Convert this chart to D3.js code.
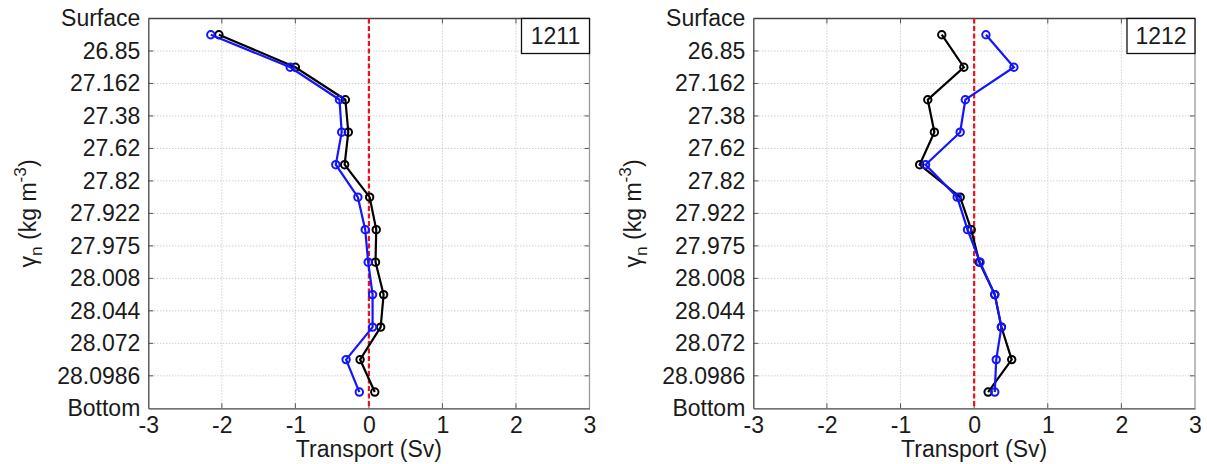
<!DOCTYPE html>
<html>
<head>
<meta charset="utf-8">
<script src="https://cdn.jsdelivr.net/npm/d3@7"></script>
<style>
  html, body { margin: 0; padding: 0; background: #fff; }
  svg { display: block; font-family: "Liberation Sans", Arial, sans-serif; }
</style>
</head>
<body>
<svg id="chart" width="1207" height="464"></svg>
<script>
// Neutral-density layer boundaries (top to bottom)
const densityLabels = ["Surface", "26.85", "27.162", "27.38", "27.62", "27.82", "27.922",
  "27.975", "28.008", "28.044", "28.072", "28.0986", "Bottom"];
const xTicks = [-3, -2, -1, 0, 1, 2, 3];

// Layer transports (Sv), one value per density layer
const transport1211Black = [-2.04, -1.00, -0.32, -0.28, -0.33, 0.01, 0.10, 0.09, 0.20, 0.16, -0.12, 0.08];
const transport1211Blue  = [-2.15, -1.07, -0.40, -0.37, -0.45, -0.15, -0.05, -0.01, 0.05, 0.05, -0.31, -0.13];
const transport1212Black = [-0.44, -0.14, -0.63, -0.54, -0.74, -0.19, -0.04, 0.07, 0.28, 0.37, 0.51, 0.19];
const transport1212Blue  = [0.16, 0.54, -0.12, -0.19, -0.66, -0.23, -0.09, 0.08, 0.28, 0.37, 0.30, 0.28];

const panels = [
  { name: "1211", left: 148.3, right: 589.5, black: transport1211Black, blue: transport1211Blue },
  { name: "1212", left: 753.3, right: 1195, black: transport1212Black, blue: transport1212Blue }
];

const plotTop = 18.5, plotBottom = 408.3;
const svg = d3.select("#chart");
const fontSize = 23;
const textColor = "#1a1a1a";

panels.forEach(p => {
  const x = d3.scaleLinear().domain([-3, 3]).range([p.left, p.right]);
  const y = d3.scaleLinear().domain([0, densityLabels.length - 1]).range([plotTop, plotBottom]);
  const g = svg.append("g");

  // grid
  g.append("g").selectAll("line").data(xTicks.slice(1, -1)).join("line")
    .attr("x1", d => x(d)).attr("x2", d => x(d)).attr("y1", plotTop).attr("y2", plotBottom)
    .attr("stroke", "#b8b8b8").attr("stroke-width", 1).attr("stroke-dasharray", "1,2");
  g.append("g").selectAll("line").data(d3.range(1, densityLabels.length - 1)).join("line")
    .attr("x1", p.left).attr("x2", p.right).attr("y1", d => y(d)).attr("y2", d => y(d))
    .attr("stroke", "#b8b8b8").attr("stroke-width", 1).attr("stroke-dasharray", "1,2");

  // inner ticks on all four sides
  const tl = 5;
  const ticks = g.append("g").attr("stroke", "#555").attr("stroke-width", 1);
  xTicks.slice(1, -1).forEach(d => {
    ticks.append("line").attr("x1", x(d)).attr("x2", x(d)).attr("y1", plotBottom).attr("y2", plotBottom - tl);
    ticks.append("line").attr("x1", x(d)).attr("x2", x(d)).attr("y1", plotTop).attr("y2", plotTop + tl);
  });
  d3.range(1, densityLabels.length - 1).forEach(d => {
    ticks.append("line").attr("x1", p.left).attr("x2", p.left + tl).attr("y1", y(d)).attr("y2", y(d));
    ticks.append("line").attr("x1", p.right).attr("x2", p.right - tl).attr("y1", y(d)).attr("y2", y(d));
  });

  // axes frame
  g.append("line").attr("x1", p.left).attr("x2", p.right).attr("y1", plotTop).attr("y2", plotTop)
    .attr("stroke", "#444").attr("stroke-width", 1.3);
  g.append("line").attr("x1", p.right).attr("x2", p.right).attr("y1", plotTop).attr("y2", plotBottom)
    .attr("stroke", "#999").attr("stroke-width", 1.3);

  const xAxis = d3.axisBottom(x).tickValues(xTicks).tickFormat(d3.format("d")).tickSize(0).tickPadding(8);
  const gx = g.append("g").attr("transform", `translate(0,${plotBottom})`).call(xAxis);
  gx.select(".domain").attr("stroke", "#444").attr("stroke-width", 1.3);
  gx.selectAll("text").attr("font-size", fontSize).attr("fill", textColor)
    .attr("font-family", "Liberation Sans, Arial, sans-serif")
    .text(d => d < 0 ? "-" + Math.abs(d) : String(d));

  const yAxis = d3.axisLeft(y).tickValues(d3.range(densityLabels.length))
    .tickFormat(i => densityLabels[i]).tickSize(0).tickPadding(8);
  const gy = g.append("g").attr("transform", `translate(${p.left},0)`).call(yAxis);
  gy.select(".domain").attr("stroke", "#444").attr("stroke-width", 1.3);
  gy.selectAll("text").attr("font-size", fontSize).attr("fill", textColor)
    .attr("font-family", "Liberation Sans, Arial, sans-serif");

  // zero line
  g.append("line").attr("x1", x(0)).attr("x2", x(0)).attr("y1", plotTop).attr("y2", plotBottom)
    .attr("stroke", "#e8141c").attr("stroke-width", 2.2).attr("stroke-dasharray", "5,2.5");

  // transport profiles
  const line = d3.line().x(d => x(d.v)).y(d => y(d.i + 0.5));
  [[p.black, "#000"], [p.blue, "#1414ff"]].forEach(([vals, col]) => {
    const pts = vals.map((v, i) => ({ v, i }));
    g.append("path").datum(pts).attr("d", line).attr("fill", "none")
      .attr("stroke", col).attr("stroke-width", 2.2);
    g.append("g").selectAll("circle").data(pts).join("circle")
      .attr("cx", d => x(d.v)).attr("cy", d => y(d.i + 0.5)).attr("r", 3.7)
      .attr("fill", "none").attr("stroke", col).attr("stroke-width", 2);
  });

  // station label box
  const bw = 68, bh = 35;
  g.append("rect").attr("x", p.right - bw).attr("y", plotTop).attr("width", bw).attr("height", bh)
    .attr("fill", "#fff").attr("stroke", "#111").attr("stroke-width", 1.3);
  g.append("text").attr("x", p.right - bw / 2).attr("y", plotTop + bh / 2 + 8)
    .attr("text-anchor", "middle").attr("font-size", fontSize).attr("fill", textColor)
    .text(p.name);

  // axis titles
  g.append("text").attr("x", (p.left + p.right) / 2).attr("y", 457)
    .attr("text-anchor", "middle").attr("font-size", fontSize).attr("fill", textColor)
    .text("Transport (Sv)");

  const yl = g.append("text")
    .attr("transform", `translate(${p.left - 112},${(plotTop + plotBottom) / 2}) rotate(-90)`)
    .attr("text-anchor", "middle").attr("font-size", fontSize).attr("fill", textColor);
  yl.append("tspan").text("γ");
  yl.append("tspan").attr("font-size", fontSize * 0.75).attr("dy", 6).text("n");
  yl.append("tspan").attr("dy", -6).text(" (kg m");
  yl.append("tspan").attr("font-size", fontSize * 0.75).attr("dy", -10).text("-3");
  yl.append("tspan").attr("dy", 10).text(")");
});
</script>
</body>
</html>
